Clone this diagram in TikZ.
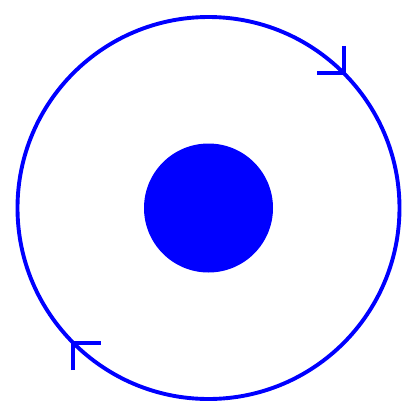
\documentclass[tikz,border=0pt]{standalone}
\usetikzlibrary{calc}
\begin{document}
\begin{tikzpicture}[x=1bp,y=-1bp,
  ring/.style={draw=blue,line width=3.9bp},
  barb/.style={draw=blue,line width=3.9bp}]
\useasboundingbox (0,0) rectangle (417,417);
\coordinate (c) at (208.5,208);
\fill[blue] (c) circle[radius=64.5];
\draw[ring] (c) circle[radius=191];
% arrow barbs (clockwise circulation)
\coordinate (t1) at ($(c)+(135.06,-135.06)$);
\coordinate (t2) at ($(c)+(-135.06,135.06)$);
\draw[barb] ($(t1)+(0,-27)$) -- (t1) -- ($(t1)+(-27,0)$);
\draw[barb] ($(t2)+(0,27)$) -- (t2) -- ($(t2)+(28,0)$);
\end{tikzpicture}
\end{document}
